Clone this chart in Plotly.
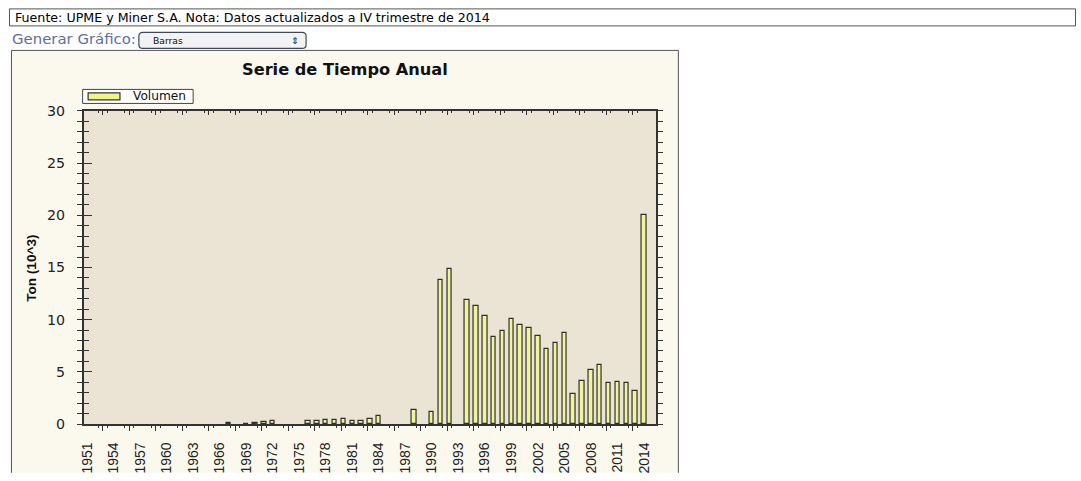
import plotly.graph_objects as go

# ---- data ----
years = list(range(1951, 2015))
volumen = [
    0, 0, 0, 0, 0, 0, 0, 0, 0, 0,          # 1951-1960
    0, 0, 0, 0, 0, 0, 0.08, 0, 0.05, 0.1,  # 1961-1970
    0.18, 0.25, 0, 0, 0, 0.25, 0.25, 0.35, 0.35, 0.45,  # 1971-1980
    0.25, 0.25, 0.45, 0.8, 0, 0, 0, 1.35, 0, 1.15,      # 1981-1990
    13.8, 14.9, 0, 11.9, 11.3, 10.4, 8.3, 8.95, 10.1, 9.45,  # 1991-2000
    9.2, 8.45, 7.2, 7.75, 8.75, 2.85, 4.1, 5.2, 5.65, 3.9,   # 2001-2010
    4.0, 3.9, 3.2, 20.0,                                   # 2011-2014
]
tick_years = [1951, 1954, 1957, 1960, 1963, 1966, 1969, 1972, 1975, 1978, 1981,
              1984, 1987, 1990, 1993, 1996, 1999, 2002, 2005, 2008, 2011, 2014]
tick_labels = [str(y) for y in tick_years]
y_ticks = [0, 5, 10, 15, 20, 25, 30]

# ---- page geometry (target pixel positions mapped to paper fractions) ----
W, H = 1081, 481
OX, OY, SY = 3.0, 7.1, 0.9665
def PX(x):
    return min(max((x - OX) / W, 0.0005), 0.9995)
def PY(y):
    return min(max(1 - ((y - OY) / SY) / H, 0.0005), 0.9995)

XR = [1950.6, 2015.35]
major_x = [y + 1.75 for y in tick_years[:-1]]
minor_x = [v + d for v in major_x for d in (-0.5, 0.5)]

fig = go.Figure()
fig.add_trace(go.Bar(
    x=years, y=[v if v else None for v in volumen], name="Volumen", width=0.5,
    marker=dict(color="#EFF59C", line=dict(color="#30302a", width=1.2)),
    showlegend=False, hovertemplate="%{x}: %{y}<extra>Volumen</extra>",
))
fig.add_trace(go.Scatter(x=[1951], y=[0], xaxis="x2", yaxis="y2", mode="markers",
                         marker=dict(opacity=0), showlegend=False, hoverinfo="skip"))
fig.add_trace(go.Scatter(x=[1951], y=[0], xaxis="x3", yaxis="y", mode="markers",
                         marker=dict(opacity=0), showlegend=False, hoverinfo="skip"))

axcol = "#333333"
dom_x = [PX(82), PX(657)]
dom_y = [PY(423), PY(110)]

fig.update_layout(
    width=W, height=H, autosize=False,
    margin=dict(l=0, r=0, t=0, b=0),
    paper_bgcolor="white", plot_bgcolor="rgba(0,0,0,0)",
    bargap=0,
    xaxis=dict(domain=dom_x, range=XR, anchor="y", tickmode="array",
               tickvals=tick_years, ticktext=tick_labels, tickangle=-90,
               ticks="", showgrid=False, zeroline=False, showline=True,
               linecolor=axcol, linewidth=1.5, mirror=True,
               tickfont=dict(family="Liberation Sans", size=14, color="#222"),
               ticklabelstandoff=11),
    xaxis2=dict(domain=dom_x, range=XR, overlaying="x", anchor="y2", tickmode="array",
                tickvals=major_x, ticks="outside", ticklen=6, tickwidth=1.2, tickcolor=axcol,
                showticklabels=False, showgrid=False, zeroline=False, showline=False,
                minor=dict(tickvals=minor_x, ticks="outside", ticklen=3, tickcolor=axcol)),
    xaxis3=dict(domain=dom_x, range=XR, overlaying="x", anchor="y", side="top", tickmode="array",
                tickvals=major_x, ticks="inside", ticklen=4, tickwidth=1.2, tickcolor=axcol,
                showticklabels=False, showgrid=False, zeroline=False, showline=False,
                minor=dict(tickvals=minor_x, ticks="inside", ticklen=2, tickcolor=axcol)),
    yaxis=dict(domain=dom_y, range=[0, 30], anchor="x", tickmode="array", tickvals=y_ticks,
               ticks="outside", ticklen=5, tickwidth=1.2, tickcolor=axcol,
               minor=dict(dtick=1, ticks="outside", ticklen=4, tickcolor=axcol),
               showgrid=False, zeroline=False, showline=True, linecolor=axcol, linewidth=1.5,
               mirror="allticks",
               tickfont=dict(family="DejaVu Sans", size=14.2, color="#222"),
               ticklabelstandoff=9),
    yaxis2=dict(domain=dom_y, range=[0, 30], overlaying="y", anchor="x2", side="left",
                tickmode="array", tickvals=y_ticks, ticks="inside", ticklen=8, tickwidth=1.2,
                tickcolor=axcol, showticklabels=False,
                minor=dict(dtick=1, ticks="inside", ticklen=5, tickcolor=axcol),
                showgrid=False, zeroline=False, showline=False),
)

def rect(x0, y0, x1, y1, fill, lc, lw, layer="below"):
    return dict(type="rect", xref="paper", yref="paper", x0=PX(x0), x1=PX(x1),
                y0=PY(y1), y1=PY(y0), fillcolor=fill,
                line=dict(color=lc, width=lw), layer=layer)

shapes = [
    rect(7.5, 8, 1078.5, 25, "white", "#555", 1),                    # header box
    rect(9.5, 49.5, 679.5, 495, "#FBF9EE", "rgba(0,0,0,0)", 0),      # chart panel fill
    dict(type="path", xref="paper", yref="paper", layer="below",     # panel border (open bottom)
         path=f"M {PX(9.5)} {PY(495)} L {PX(9.5)} {PY(49.5)} L {PX(679.5)} {PY(49.5)} L {PX(679.5)} {PY(495)}",
         line=dict(color="#555", width=1)),
    rect(82, 110, 657, 423, "#EBE4D4", "rgba(0,0,0,0)", 0),          # plot area
]
# dropdown (rounded)
x0, x1, y0, y1, r = 137.5, 305.5, 31.5, 47.5, 4
path = (f"M {PX(x0+r)} {PY(y0)} L {PX(x1-r)} {PY(y0)} Q {PX(x1)} {PY(y0)} {PX(x1)} {PY(y0+r)} "
        f"L {PX(x1)} {PY(y1-r)} Q {PX(x1)} {PY(y1)} {PX(x1-r)} {PY(y1)} "
        f"L {PX(x0+r)} {PY(y1)} Q {PX(x0)} {PY(y1)} {PX(x0)} {PY(y1-r)} "
        f"L {PX(x0)} {PY(y0+r)} Q {PX(x0)} {PY(y0)} {PX(x0+r)} {PY(y0)} Z")
shapes.append(dict(type="path", xref="paper", yref="paper", path=path,
                   fillcolor="#F3F3F3", line=dict(color="#3d4a5c", width=1.2)))
# legend
shapes.append(rect(81, 88.5, 192, 102.5, "white", "#444", 1, "above"))
shapes.append(rect(86.5, 92, 118.5, 99, "#EEF48A", "#333", 1.2, "above"))
fig.update_layout(shapes=shapes)

def note(x, y, text, size, family="DejaVu Sans", color="#111", xa="left", angle=0):
    return dict(x=PX(x), y=PY(y), xref="paper", yref="paper", xanchor=xa, yanchor="middle",
                text=text, showarrow=False, textangle=angle,
                font=dict(family=family, size=size, color=color))

ann = [
    note(11, 16.5, "Fuente: UPME y Miner S.A. Nota: Datos actualizados a IV trimestre de 2014",
         12.65, color="#000"),
    note(8, 38.5, "Generar Gráfico:", 14.9, color="#5E6F9C"),
    note(150, 39.5, "Barras", 9.2),
    note(294, 39.5, "⇕", 9.2, xa="center"),
    note(345, 69, "<b>Serie de Tiempo Anual</b>", 16.2, xa="center"),
    note(130, 95.5, "Volumen", 12.2),
    note(30, 267, "<b>Ton (10^3)</b>", 13.6, family="Liberation Sans", xa="center", angle=-90),
]
fig.update_layout(annotations=ann)

fig.write_html("out.html", config={"displayModeBar": False},
               post_script="document.documentElement.style.overflow='hidden';"
                           "document.body.style.margin='0';document.body.style.overflow='hidden';")
